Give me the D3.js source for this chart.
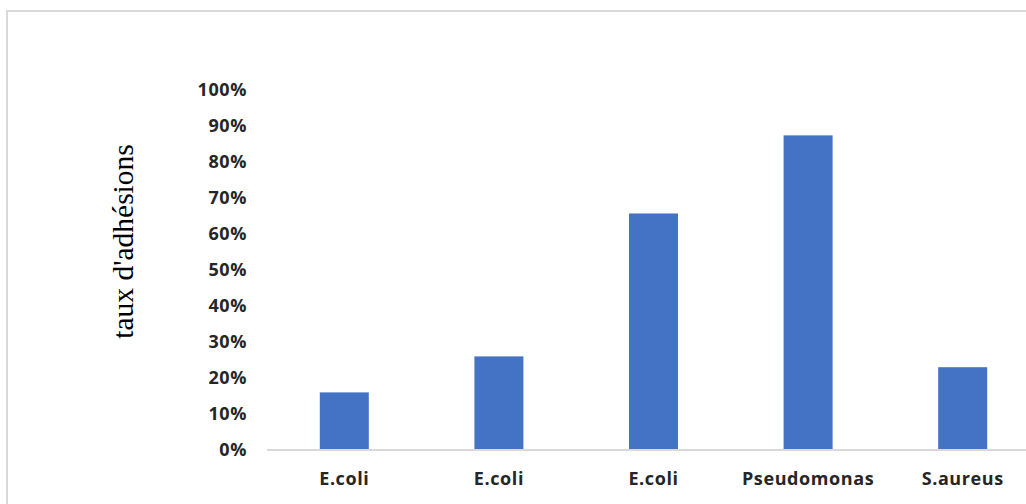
<!DOCTYPE html>
<html>
<head>
<meta charset="utf-8">
<script src="https://cdn.jsdelivr.net/npm/d3@7/dist/d3.min.js"></script>
<style>
  html, body { margin: 0; padding: 0; background: #fff; }
  svg { display: block; }
</style>
</head>
<body>
<svg id="chart" width="1026" height="504"></svg>
<script>
// Adhesion rate per bacterial strain
const categories = ["E.coli", "E.coli", "E.coli", "Pseudomonas", "S.aureus"];
const rates = [0.16, 0.26, 0.657, 0.874, 0.23];
const yTicks = [0, 0.1, 0.2, 0.3, 0.4, 0.5, 0.6, 0.7, 0.8, 0.9, 1.0];
const yTitle = "taux d'adhésions";

const svg = d3.select("#chart");
const W = 1026, H = 504;

// outer chart frame (right and bottom edges fall outside the view)
svg.append("rect")
  .attr("x", 7).attr("y", 11)
  .attr("width", 1040).attr("height", 520)
  .attr("fill", "#fff")
  .attr("stroke", "#d9d9d9").attr("stroke-width", 2);

const plot = { left: 267, right: 1040, top: 90, bottom: 450 };

const x = d3.scaleBand()
  .domain(d3.range(categories.length))
  .range([plot.left, plot.right])
  .paddingInner(0.683)
  .paddingOuter(0.3415);

const y = d3.scaleLinear().domain([0, 1]).range([plot.bottom, plot.top]);

// bars
svg.append("g").selectAll("rect")
  .data(rates)
  .join("rect")
  .attr("x", (d, i) => x(i))
  .attr("y", d => y(d))
  .attr("width", x.bandwidth())
  .attr("height", d => y(0) - y(d))
  .attr("fill", "#4472c4");

const labelStyle = sel => sel
  .attr("font-family", "'Open Sans', sans-serif")
  .attr("font-weight", "bold")
  .attr("font-size", "18px")
  .attr("letter-spacing", "0.6px")
  .attr("fill", "#262626");

// category axis
const xAxis = svg.append("g")
  .attr("transform", `translate(0,${plot.bottom})`)
  .call(d3.axisBottom(x).tickSize(0).tickPadding(22).tickFormat(i => categories[i]));
xAxis.select(".domain").attr("stroke", "#d9d9d9").attr("stroke-width", 2)
  .attr("d", `M${plot.left},0H${W + 20}`);
xAxis.selectAll("text").call(labelStyle);

// value axis (labels only)
const yAxis = svg.append("g")
  .attr("transform", `translate(247,0)`)
  .call(d3.axisLeft(y).tickValues(yTicks).tickSize(0).tickPadding(0).tickFormat(d3.format(".0%")));
yAxis.select(".domain").remove();
yAxis.selectAll("text").call(labelStyle);

// axis title
svg.append("text")
  .attr("transform", `translate(133,${(143 + 340) / 2}) rotate(-90)`)
  .attr("text-anchor", "middle")
  .attr("font-family", "'Liberation Serif', 'Times New Roman', serif")
  .attr("font-size", "29.5px")
  .attr("fill", "#000")
  .text(yTitle);
</script>
</body>
</html>
